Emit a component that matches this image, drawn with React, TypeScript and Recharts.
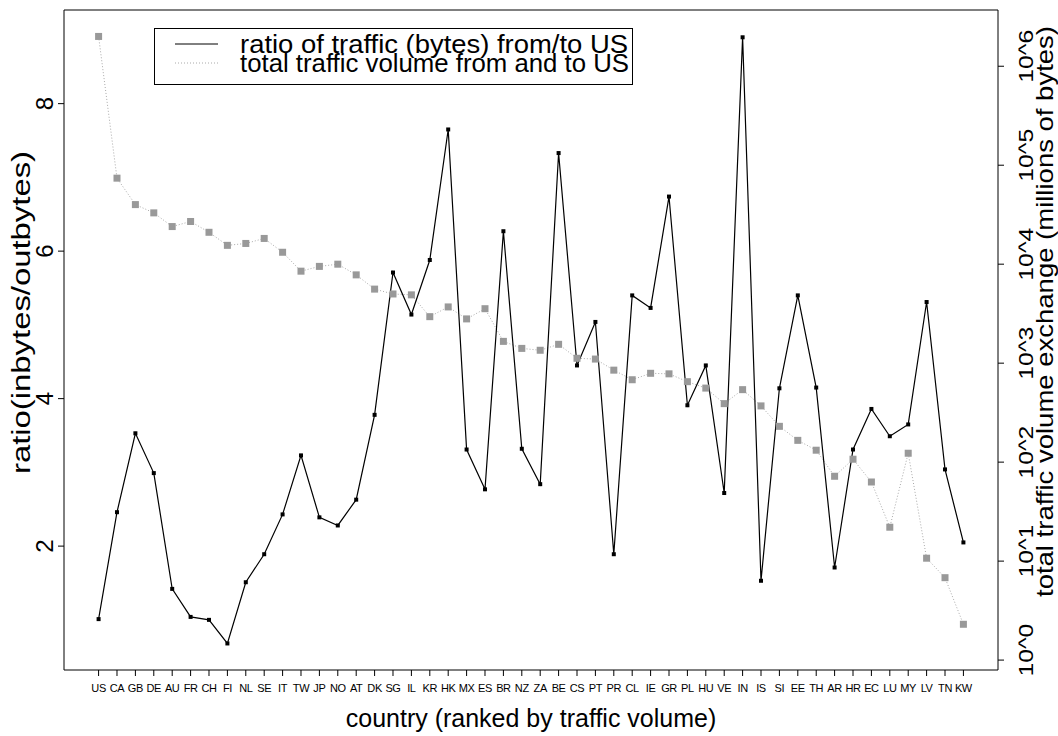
import React from 'react'
import { ComposedChart, Line, XAxis, YAxis, Legend, ReferenceArea } from 'recharts'

// countries ranked by traffic volume
const countries = [
  'US', 'CA', 'GB', 'DE', 'AU', 'FR', 'CH', 'FI', 'NL', 'SE', 'IT', 'TW', 'JP', 'NO', 'AT', 'DK',
  'SG', 'IL', 'KR', 'HK', 'MX', 'ES', 'BR', 'NZ', 'ZA', 'BE', 'CS', 'PT', 'PR', 'CL', 'IE', 'GR',
  'PL', 'HU', 'VE', 'IN', 'IS', 'SI', 'EE', 'TH', 'AR', 'HR', 'EC', 'LU', 'MY', 'LV', 'TN', 'KW',
]

// inbytes / outbytes
const ratio = [
  1.01, 2.46, 3.53, 2.99, 1.42, 1.04, 1.0, 0.68, 1.51, 1.89, 2.43, 3.23, 2.39, 2.28, 2.63, 3.78,
  5.71, 5.14, 5.88, 7.65, 3.31, 2.77, 6.27, 3.32, 2.84, 7.33, 4.45, 5.04, 1.89, 5.4, 5.23, 6.74,
  3.91, 4.45, 2.72, 8.9, 1.53, 4.14, 5.4, 4.15, 1.71, 3.31, 3.86, 3.49, 3.65, 5.31, 3.04, 2.05,
]

// total traffic volume, millions of bytes
const volume = [
  2000000, 74000, 40000, 33000, 24000, 27000, 21000, 15500, 16200, 18200, 13200, 8500, 9500, 10000, 7800, 5600,
  5000, 4900, 2950, 3700, 2800, 3550, 1660, 1410, 1350, 1550, 1120, 1100, 850, 680, 790, 780,
  650, 560, 390, 540, 370, 230, 166, 132, 72, 107, 63, 22, 123, 10.7, 6.8, 2.3,
]

const ratioTicks = [2, 4, 6, 8]
const volumeTicks = [1, 10, 100, 1000, 10000, 100000, 1000000]

const FONT = '"Liberation Sans", Arial, Helvetica, sans-serif'

const data = countries.map((c, i) => ({ idx: i, code: c, ratio: ratio[i], volume: volume[i] }))

function LeftTick({ y, payload }: any) {
  return (
    <text x={53} y={y} textAnchor="middle" transform={`rotate(-90 53 ${y})`} fontSize={24} fill="#000" fontFamily={FONT}>
      {payload.value}
    </text>
  )
}

function RightTick({ y, payload }: any) {
  const p = Math.round(Math.log10(payload.value))
  const cy = y - 10
  return (
    <text
      x={1033}
      y={cy}
      textAnchor="middle"
      transform={`rotate(-90 1033 ${cy})`}
      fontSize={21}
      textLength={53}
      lengthAdjust="spacingAndGlyphs"
      fill="#000"
      fontFamily={FONT}
    >
      {`10^${p}`}
    </text>
  )
}

function BottomTick({ x, y, payload }: any) {
  return (
    <text x={x} y={y} dy="0.71em" textAnchor="middle" fontSize={11} fill="#000" fontFamily={FONT} letterSpacing={-0.4}>
      {countries[payload.value]}
    </text>
  )
}

function BlackDot({ cx, cy }: any) {
  if (cx == null || cy == null) return null
  return <rect x={cx - 2} y={cy - 2} width={4} height={4} fill="#000" />
}

function GrayDot({ cx, cy }: any) {
  if (cx == null || cy == null) return null
  return <rect x={cx - 3.5} y={cy - 3.5} width={7} height={7} fill="#999" />
}

function LegendBox() {
  return (
    <svg width={480} height={58} style={{ display: 'block' }}>
      <rect x={0.5} y={0.5} width={478} height={56} fill="#fff" stroke="#000" />
      <line x1={21} x2={64} y1={16} y2={16} stroke="#000" strokeWidth={1} />
      <line x1={21} x2={64} y1={35} y2={35} stroke="#aaa" strokeWidth={1} strokeDasharray="1 2" />
      <text x={86} y={25} fontSize={25} textLength={388} lengthAdjust="spacingAndGlyphs" fontFamily={FONT} fill="#000">
        ratio of traffic (bytes) from/to US
      </text>
      <text x={86} y={44} fontSize={25} textLength={389} lengthAdjust="spacingAndGlyphs" fontFamily={FONT} fill="#000">
        total traffic volume from and to US
      </text>
    </svg>
  )
}

export default function App() {
  return (
    <div style={{ position: 'absolute', left: 0, top: 0, width: 1058, height: 736, background: '#fff', fontFamily: FONT }}>
      <ComposedChart width={1058} height={736} data={data} margin={{ top: 10, right: 0, bottom: 0, left: 0 }}>
        <XAxis
          xAxisId="x"
          dataKey="idx"
          type="number"
          domain={[-1.88, 48.88]}
          allowDataOverflow
          ticks={countries.map((_, i) => i)}
          interval={0}
          height={66}
          axisLine={false}
          tickLine={{ stroke: '#000' }}
          tickSize={6}
          tickMargin={8}
          tick={<BottomTick />}
          label={{
            content: () => (
              <text x={531} y={727} textAnchor="middle" fontSize={25} fill="#000" fontFamily={FONT}>
                country (ranked by traffic volume)
              </text>
            ),
          }}
        />
        <YAxis
          yAxisId="left"
          width={64}
          type="number"
          domain={[0.32, 9.27]}
          allowDataOverflow
          ticks={ratioTicks}
          axisLine={false}
          tickLine={{ stroke: '#000' }}
          tickSize={6}
          tick={<LeftTick />}
          label={{
            content: () => (
              <text
                x={30}
                y={474}
                textAnchor="start"
                transform="rotate(-90 30 474)"
                fontSize={25}
                textLength={323}
                lengthAdjust="spacingAndGlyphs"
                fill="#000"
                fontFamily={FONT}
              >
                ratio(inbytes/outbytes)
              </text>
            ),
          }}
        />
        <YAxis
          yAxisId="right"
          orientation="right"
          width={60}
          type="number"
          scale="log"
          domain={[0.794, 3700000]}
          allowDataOverflow
          ticks={volumeTicks}
          axisLine={false}
          tickLine={{ stroke: '#000' }}
          tickSize={6}
          tick={<RightTick />}
          label={{
            content: () => (
              <text
                x={1053}
                y={597}
                textAnchor="start"
                transform="rotate(-90 1053 597)"
                fontSize={24}
                textLength={571}
                lengthAdjust="spacingAndGlyphs"
                fill="#000"
                fontFamily={FONT}
              >
                total traffic volume exchange (millions of bytes)
              </text>
            ),
          }}
        />
        <ReferenceArea
          xAxisId="x"
          yAxisId="left"
          x1={-1.88}
          x2={48.88}
          y1={0.32}
          y2={9.27}
          fill="none"
          stroke="#000"
          strokeWidth={1}
        />
        <Line
          xAxisId="x"
          yAxisId="right"
          dataKey="volume"
          type="linear"
          stroke="#aaa"
          strokeWidth={1}
          strokeDasharray="1 2"
          dot={<GrayDot />}
          activeDot={false}
          isAnimationActive={false}
        />
        <Line
          xAxisId="x"
          yAxisId="left"
          dataKey="ratio"
          type="linear"
          stroke="#000"
          strokeWidth={1.2}
          dot={<BlackDot />}
          activeDot={false}
          isAnimationActive={false}
        />
        <Legend
          layout="horizontal"
          verticalAlign="middle"
          align="center"
          content={() => <LegendBox />}
          wrapperStyle={{ position: 'absolute', left: 154, top: 28, width: 480, height: 58 }}
        />
      </ComposedChart>
    </div>
  )
}
